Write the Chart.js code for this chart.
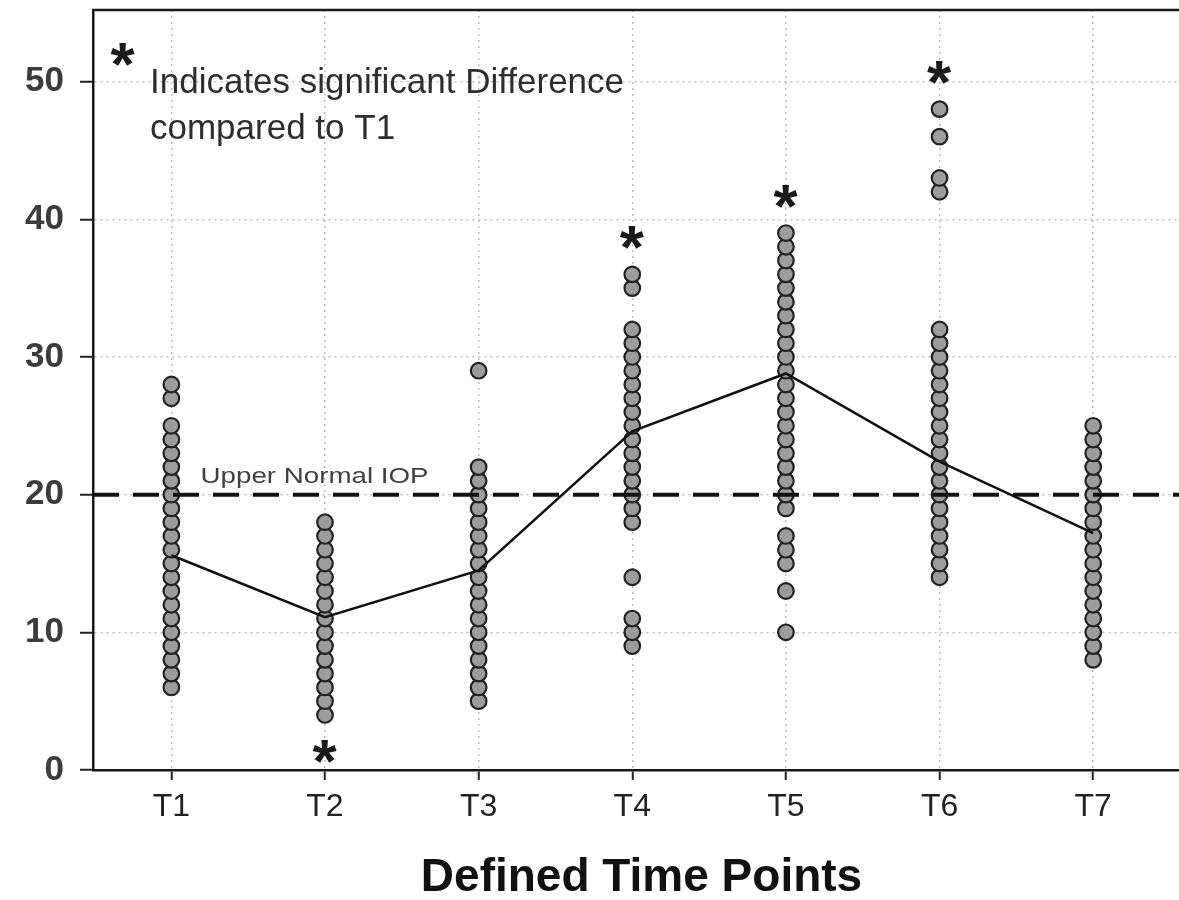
<!DOCTYPE html>
<html>
<head>
<meta charset="utf-8">
<script src="https://cdn.jsdelivr.net/npm/chart.js@4"></script>
<style>
  html, body { margin: 0; padding: 0; background: #fff; overflow: hidden; }
  #wrap { width: 1200px; height: 900px; }
</style>
</head>
<body>
<div id="wrap"><canvas id="canvas"></canvas></div>
<script>
// time points and IOP readings (mmHg)
const timeLabels = ['T1', 'T2', 'T3', 'T4', 'T5', 'T6', 'T7']
const iopT1 = [6, 7, 8, 9, 10, 11, 12, 13, 14, 15, 16, 17, 18, 19, 20, 21, 22, 23, 24, 25, 27, 28]
const iopT2 = [4, 5, 6, 7, 8, 9, 10, 11, 12, 13, 14, 15, 16, 17, 18]
const iopT3 = [5, 6, 7, 8, 9, 10, 11, 12, 13, 14, 15, 16, 17, 18, 19, 20, 21, 22, 29]
const iopT4 = [9, 10, 11, 14, 18, 19, 20, 21, 22, 23, 24, 25, 26, 27, 28, 29, 30, 31, 32, 35, 36]
const iopT5 = [10, 13, 15, 16, 17, 19, 20, 21, 22, 23, 24, 25, 26, 27, 28, 29, 30, 31, 32, 33, 34, 35, 36, 37, 38, 39]
const iopT6 = [14, 15, 16, 17, 18, 19, 20, 21, 22, 23, 24, 25, 26, 27, 28, 29, 30, 31, 32, 42, 43, 46, 48]
const iopT7 = [8, 9, 10, 11, 12, 13, 14, 15, 16, 17, 18, 19, 20, 21, 22, 23, 24, 25]
const meanIOP = [15.6, 11.1, 14.5, 24.6, 28.8, 22.4, 17.2]
const upperNormal = 20
const yTicks = [0, 10, 20, 30, 40, 50]
// significant difference vs T1, and on which side of the column the star goes
const sigTimes = ['T2', 'T4', 'T5', 'T6']
const sigSide = ['below', 'above', 'above', 'above']

const allIOP = [iopT1, iopT2, iopT3, iopT4, iopT5, iopT6, iopT7]
const xMin = 0.49
const xMax = 7.63

const scatterPoints = []
allIOP.forEach((vals, i) => {
    vals.forEach(v => scatterPoints.push({x: i + 1, y: v}))
})

const font = '"Liberation Sans", Arial, sans-serif'

// draws a '*' with its ink centred on cx, cy
const drawStar = (ctx, cx, cy, size) => {
    ctx.font = 'bold ' + size + 'px ' + font
    ctx.textAlign = 'left'
    ctx.textBaseline = 'alphabetic'
    const m = ctx.measureText('*')
    const x = cx - (m.actualBoundingBoxRight - m.actualBoundingBoxLeft) / 2
    const y = cy + (m.actualBoundingBoxAscent - m.actualBoundingBoxDescent) / 2
    ctx.fillText('*', x, y)
}

const extras = {
    id: 'extras',
    afterDatasetsDraw(chart) {
        const ctx = chart.ctx
        const area = chart.chartArea
        const xs = chart.scales.x
        const ys = chart.scales.y
        ctx.save()

        // top frame line
        ctx.strokeStyle = '#1a1a1a'
        ctx.lineWidth = 2.5
        ctx.beginPath()
        ctx.moveTo(area.left - 1, area.top)
        ctx.lineTo(area.right, area.top)
        ctx.stroke()

        ctx.fillStyle = '#1a1a1a'
        // significance stars
        sigTimes.forEach((t, k) => {
            const i = timeLabels.indexOf(t)
            const vals = allIOP[i]
            const cx = xs.getPixelForValue(i + 1)
            if (sigSide[k] === 'above') {
                drawStar(ctx, cx, ys.getPixelForValue(Math.max(...vals)) - 37, 62)
            } else {
                drawStar(ctx, cx, ys.getPixelForValue(Math.min(...vals)) + 37, 62)
            }
        })

        // note in top-left corner
        drawStar(ctx, area.left + 30, area.top + 44, 62)
        ctx.fillStyle = '#2e2e2e'
        ctx.font = '35px ' + font
        ctx.textAlign = 'left'
        ctx.textBaseline = 'alphabetic'
        ctx.fillText('Indicates significant Difference', area.left + 57, area.top + 83)
        ctx.fillText('compared to T1', area.left + 57, area.top + 129)

        // label for the dashed line
        const label = 'Upper Normal IOP'
        ctx.font = '22px ' + font
        ctx.fillStyle = '#404040'
        const w = ctx.measureText(label).width
        const lx = xs.getPixelForValue(1.19)
        const ly = ys.getPixelForValue(upperNormal) - 12
        ctx.translate(lx, ly)
        ctx.scale(228 / w, 1)
        ctx.fillText(label, 0, 0)
        ctx.restore()
    }
}

const ctx = document.querySelector('#canvas')

new Chart(ctx, {
    data: {
        datasets: [{
            type: 'scatter',
            label: 'IOP',
            data: scatterPoints,
            pointRadius: 7.8,
            pointBorderWidth: 2.2,
            pointBackgroundColor: '#9c9c9c',
            pointBorderColor: '#222',
            order: 3
        }, {
            type: 'line',
            label: 'Upper Normal IOP',
            data: [{x: xMin, y: upperNormal}, {x: xMax, y: upperNormal}],
            borderColor: '#111',
            borderWidth: 4,
            borderDash: [26, 14],
            pointRadius: 0,
            order: 2
        }, {
            type: 'line',
            label: 'Mean',
            data: meanIOP.map((v, i) => ({x: i + 1, y: v})),
            borderColor: '#111',
            borderWidth: 2.5,
            pointRadius: 0,
            tension: 0,
            order: 1
        }]
    },
    options: {
        responsive: true,
        maintainAspectRatio: false,
        animation: false,
        layout: {
            padding: {top: 7, right: 0, left: 0, bottom: 0}
        },
        scales: {
            x: {
                type: 'linear',
                min: xMin,
                max: xMax,
                afterBuildTicks: axis => {
                    axis.ticks = timeLabels.map((t, i) => ({value: i + 1}))
                },
                afterFit: axis => {
                    axis.height = 130
                    axis.paddingLeft = 0
                    axis.paddingRight = 0
                },
                ticks: {
                    color: '#222',
                    padding: 8,
                    font: {family: '"Liberation Sans Narrow", "Liberation Sans", Arial', size: 32},
                    callback: value => timeLabels[value - 1]
                },
                grid: {
                    color: '#bdbdbd',
                    lineWidth: 1.5,
                    tickColor: '#222',
                    tickWidth: 2,
                    tickLength: 10
                },
                border: {color: '#1a1a1a', width: 2.5, dash: [2, 4]},
                title: {
                    display: true,
                    text: 'Defined Time Points',
                    color: '#111',
                    font: {family: font, size: 46, weight: 'bold', lineHeight: 0.95},
                    padding: {top: 0, bottom: 0}
                }
            },
            y: {
                min: 0,
                max: 55.2,
                afterBuildTicks: axis => {
                    axis.ticks = yTicks.map(v => ({value: v}))
                },
                afterFit: axis => {
                    axis.width = 93
                    axis.paddingTop = 0
                    axis.paddingBottom = 0
                },
                ticks: {
                    color: '#3c3c3c',
                    padding: 16,
                    font: {family: font, size: 35, weight: 'bold'}
                },
                grid: {
                    color: '#bdbdbd',
                    lineWidth: 1.5,
                    tickColor: '#222',
                    tickWidth: 2,
                    tickLength: 13
                },
                border: {color: '#1a1a1a', width: 2.5, dash: [2, 4]}
            }
        },
        plugins: {
            legend: {display: false},
            tooltip: {enabled: false}
        }
    },
    plugins: [extras]
})
</script>
</body>
</html>
